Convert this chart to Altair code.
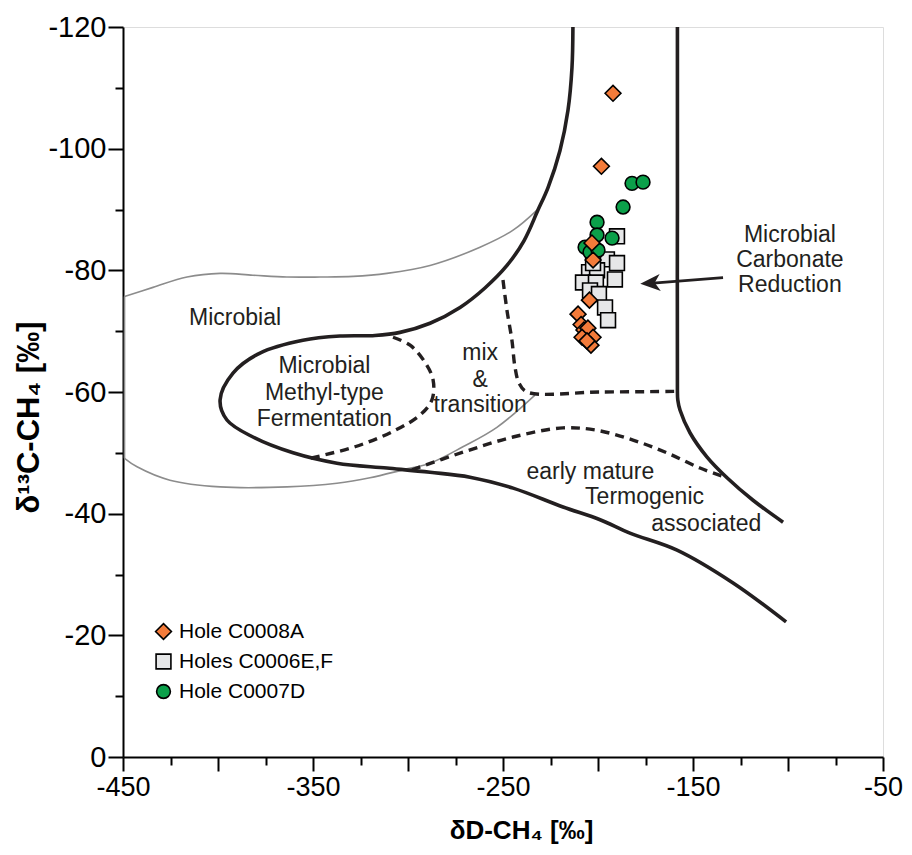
import altair as alt
import pandas as pd

# ---------------- data (delta-D in permil, delta-13C in permil) ----------------
c0008a_dD = [-192.1, -198.2, -203.2, -202.6, -204.5, -210.5, -208.9, -207.4, -205.3, -202.6, -208.4, -203.7, -205.8]
c0008a_d13C = [-109.1, -97.1, -84.5, -81.7, -75.1, -72.8, -71.1, -70.2, -70.5, -69.0, -69.0, -67.7, -68.4]

c0006_dD = [-190.0, -195.3, -190.0, -204.7, -200.5, -202.6, -191.1, -207.9, -201.1, -204.2, -199.5, -196.3, -194.7]
c0006_d13C = [-85.6, -81.8, -81.2, -79.7, -80.0, -81.2, -78.5, -78.0, -78.0, -76.7, -76.1, -73.9, -71.8]

c0007d_dD = [-182.1, -176.3, -186.8, -200.5, -200.5, -192.6, -206.8, -204.2, -200.0]
c0007d_d13C = [-94.3, -94.5, -90.4, -87.9, -85.8, -85.3, -83.8, -83.0, -83.3]

series_names = ["Hole C0008A", "Holes C0006E,F", "Hole C0007D"]
series_fill = ["#F37B3A", "#E6E7E8", "#0BA04A"]
series_shape = ["diamond", "square", "circle"]
series_size = [250, 190, 300]

# field boundaries
upper_x = [-213.2, -213.7, -215.8, -220.0, -226.3, -231.6, -238.9, -247.9, -259.5, -272.6, -288.4, -304.2, -317.4,
           -335.8, -355.3, -377.9, -392.1, -398.9, -395.3, -381.6, -360.5, -337.4, -311.1, -288.4, -267.4,
           -244.7, -218.4, -198.9, -183.2, -158.4, -128.9, -101.0]
upper_y = [-120.0, -113.3, -106.3, -99.7, -93.6, -89.9, -84.9, -80.8, -77.1, -73.9, -71.3, -69.8, -69.3,
           -69.2, -68.5, -66.4, -63.1, -58.7, -55.4, -52.6, -50.0, -48.3, -47.5, -46.8, -46.0,
           -44.2, -41.1, -39.0, -36.8, -34.0, -28.6, -22.2]

right_x = [-158.2, -158.2, -158.2, -158.0, -156.8, -151.6, -142.6, -132.1, -118.4, -102.6]
right_y = [-120.0, -90.0, -60.3, -58.7, -57.0, -53.3, -49.3, -45.9, -42.2, -38.6]

mix_x = [-250.0, -247.9, -245.3, -243.7, -241.6, -237.4, -198.9, -158.2]
mix_y = [-78.4, -73.4, -68.5, -64.1, -61.5, -60.0, -60.0, -60.1]

dome_x = [-297.9, -271.1, -244.7, -218.4, -200.5, -181.6, -163.7, -146.3, -132.1]
dome_y = [-47.2, -50.1, -52.6, -54.1, -53.7, -52.1, -50.0, -47.5, -45.9]

methyl_x = [-307.9, -298.9, -291.1, -286.8, -287.4, -293.7, -306.8, -327.9, -353.2]
methyl_y = [-69.0, -67.7, -64.9, -62.0, -58.7, -56.2, -53.7, -51.0, -49.0]

microbial_top_x = [-232.1, -244.7, -262.1, -288.4, -311.1, -328.9, -346.3, -363.7, -381.6, -398.9, -416.3,
                   -434.2, -449.2]
microbial_top_y = [-89.9, -86.6, -83.8, -80.8, -79.5, -79.0, -78.9, -78.9, -79.2, -79.5, -78.9,
                   -77.2, -75.7]
microbial_left_x = [-449.2, -449.2]
microbial_left_y = [-75.7, -49.1]
microbial_bottom_x = [-449.2, -442.6, -425.3, -398.9, -363.7, -337.4, -320.0, -302.6, -288.4, -271.1,
                      -253.2, -233.2]
microbial_bottom_y = [-49.1, -47.7, -45.5, -44.4, -44.4, -45.0, -45.9, -47.2, -48.3, -51.0,
                      -54.2, -59.5]

# annotations
ann_text = ["Microbial", "Microbial", "Methyl-type", "Fermentation", "mix", "&", "transition",
            "Microbial", "Carbonate", "Reduction", "early mature", "Termogenic", "associated"]
ann_x = [-391.0, -344.0, -344.0, -344.0, -262.0, -262.0, -262.0, -99.0, -99.0, -99.0, -204.0, -175.5, -143.0]
ann_y = [-72.1, -64.3, -59.9, -55.6, -66.4, -62.0, -57.8, -85.8, -81.7, -77.6, -46.8, -42.7, -38.3]

arrow_x = [-134.2, -171.0]
arrow_y = [-78.8, -77.9]
arrowhead_x = [-172.5]
arrowhead_y = [-77.9]

x_major = [-450, -400, -350, -300, -250, -200, -150, -100, -50]
x_minor = [-425, -375, -325, -275, -225, -175, -125, -75]
y_major = [-120, -100, -80, -60, -40, -20, 0]
y_minor = [-110, -90, -70, -50, -30, -10]

# ---------------- tables ----------------
def curve_df(name, xs, ys):
    return pd.DataFrame({"curve": name, "i": range(len(xs)), "dD": xs, "d13C": ys})

solid_df = pd.concat([curve_df("upper", upper_x, upper_y), curve_df("right", right_x, right_y)])
dashed_df = pd.concat([curve_df("mix", mix_x, mix_y), curve_df("dome", dome_x, dome_y),
                       curve_df("methyl", methyl_x, methyl_y)])
gray_df = pd.concat([curve_df("top", microbial_top_x, microbial_top_y),
                     curve_df("left", microbial_left_x, microbial_left_y),
                     curve_df("bottom", microbial_bottom_x, microbial_bottom_y)])

pts = pd.concat([
    pd.DataFrame({"hole": series_names[1], "dD": c0006_dD, "d13C": c0006_d13C}),
    pd.DataFrame({"hole": series_names[2], "dD": c0007d_dD, "d13C": c0007d_d13C}),
    pd.DataFrame({"hole": series_names[0], "dD": c0008a_dD, "d13C": c0008a_d13C}),
]).reset_index(drop=True)
pts["n"] = range(len(pts))

ann_df = pd.DataFrame({"t": ann_text, "dD": ann_x, "d13C": ann_y})
arrow_df = pd.DataFrame({"dD": [arrow_x[0]], "d13C": [arrow_y[0]], "dD2": [arrow_x[1]], "d13C2": [arrow_y[1]]})
head_df = pd.DataFrame({"dD": arrowhead_x, "d13C": arrowhead_y})

FONT = "Liberation Sans"
xscale = alt.Scale(domain=[-450, -50], nice=False, zero=False)
yscale = alt.Scale(domain=[-120, 0], nice=False, zero=False, reverse=True)

x_major_axis = alt.Axis(orient="bottom", values=x_major, tickSize=14, tickWidth=2, tickColor="black",
                        domain=True, domainColor="black", domainWidth=2, grid=False,
                        labelExpr="(datum.value + 450) % 100 == 0 ? '' + datum.value : ''",
                        labelFont=FONT, labelFontSize=27, labelColor="black", labelPadding=3,
                        labelFlush=False, labelOverlap=False,
                        title="δD-CH₄ [‰]", titleFont=FONT, titleFontSize=26, titleFontWeight="bold",
                        titleColor="black", titleX=398, titleY=73, titleBaseline="middle", titleAlign="center")
y_major_axis = alt.Axis(orient="left", values=y_major, tickSize=15, tickWidth=2, tickColor="black",
                        domain=True, domainColor="black", domainWidth=2, grid=False,
                        labelExpr="'' + datum.value",
                        labelFont=FONT, labelFontSize=29, labelColor="black", labelPadding=2,
                        labelFlush=False, labelOverlap=False,
                        title="δ¹³C-CH₄ [‰]", titleFont=FONT, titleFontSize=31, titleFontWeight="bold",
                        titleColor="black", titleX=-94, titleY=390, titleAngle=270,
                        titleBaseline="middle", titleAlign="center")
x_minor_axis = alt.Axis(orient="bottom", values=x_minor, tickSize=8, tickWidth=2, tickColor="black",
                        domain=False, grid=False, labels=False, title=None)
y_minor_axis = alt.Axis(orient="left", values=y_minor, tickSize=8, tickWidth=2, tickColor="black",
                        domain=False, grid=False, labels=False, title=None)

gray = alt.Chart(gray_df).mark_line(color="#8C8C8C", strokeWidth=1.6, interpolate="catmull-rom",
                                    clip=True).encode(
    x=alt.X("dD:Q", scale=xscale, axis=x_major_axis),
    y=alt.Y("d13C:Q", scale=yscale, axis=y_major_axis),
    detail="curve:N",
    order="i:Q",
)

solid = alt.Chart(solid_df).mark_line(color="#231F20", strokeWidth=3.6, interpolate="catmull-rom",
                                      clip=True).encode(
    x=alt.X("dD:Q", scale=xscale, axis=x_minor_axis),
    y=alt.Y("d13C:Q", scale=yscale, axis=y_minor_axis),
    detail="curve:N",
    order="i:Q",
)

dashed = alt.Chart(dashed_df).mark_line(color="#231F20", strokeWidth=3.4, strokeDash=[9, 6],
                                        interpolate="catmull-rom", clip=True).encode(
    x=alt.X("dD:Q", scale=xscale, axis=None),
    y=alt.Y("d13C:Q", scale=yscale, axis=None),
    detail="curve:N",
    order="i:Q",
)

points = alt.Chart(pts).mark_point(filled=True, stroke="black", strokeWidth=1.6, opacity=1).encode(
    x=alt.X("dD:Q", scale=xscale, axis=None),
    y=alt.Y("d13C:Q", scale=yscale, axis=None),
    fill=alt.Fill("hole:N", scale=alt.Scale(domain=series_names, range=series_fill),
                  legend=alt.Legend(title=None, orient="none", legendX=30, legendY=594,
                                    labelFont=FONT, labelFontSize=21, labelColor="black",
                                    symbolStrokeColor="black", symbolStrokeWidth=1.6,
                                    rowPadding=7, labelOffset=5, padding=0)),
    shape=alt.Shape("hole:N", scale=alt.Scale(domain=series_names, range=series_shape)),
    size=alt.Size("hole:N", scale=alt.Scale(domain=series_names, range=series_size)),
    order="n:Q",
)

labels = alt.Chart(ann_df).mark_text(font=FONT, fontSize=23, color="#231F20", align="center",
                                     baseline="middle").encode(
    x=alt.X("dD:Q", scale=xscale, axis=None),
    y=alt.Y("d13C:Q", scale=yscale, axis=None),
    text="t:N",
)

shaft = alt.Chart(arrow_df).mark_rule(color="#231F20", strokeWidth=2.6).encode(
    x=alt.X("dD:Q", scale=xscale, axis=None),
    y=alt.Y("d13C:Q", scale=yscale, axis=None),
    x2="dD2:Q",
    y2="d13C2:Q",
)

head = alt.Chart(head_df).mark_point(shape="M-1,0L1,-0.85L0.45,0L1,0.85Z", filled=True, color="#231F20",
                                     size=400, angle=356, opacity=1).encode(
    x=alt.X("dD:Q", scale=xscale, axis=None),
    y=alt.Y("d13C:Q", scale=yscale, axis=None),
)

chart = alt.layer(gray, solid, dashed, points, labels, shaft, head).resolve_axis(
    x="independent", y="independent"
).resolve_scale(x="shared", y="shared").properties(
    width=760, height=730,
    autosize=alt.AutoSizeParams(type="none"),
    padding={"left": 115, "top": 19, "right": 20, "bottom": 90},
).configure_view(stroke="black", strokeWidth=2.2).configure(background="white")

chart.save("out.html", embed_options={"renderer": "svg", "actions": False})
